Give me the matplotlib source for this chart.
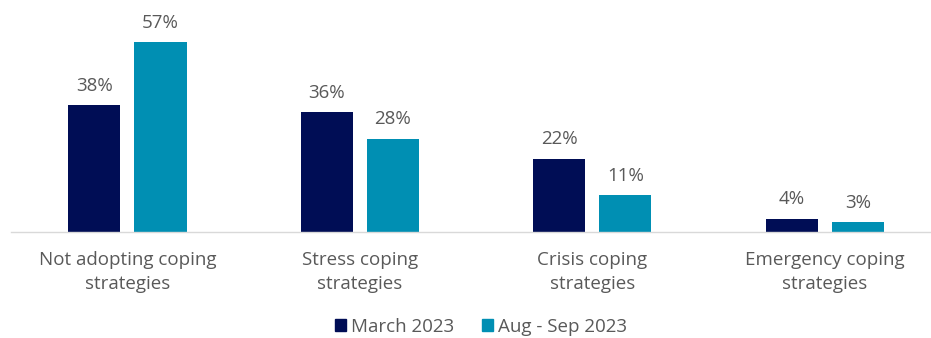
import numpy as np
import matplotlib.pyplot as plt
from matplotlib.patches import Patch

plt.rcParams['font.family'] = ['Open Sans', 'DejaVu Sans']

categories = ['Not adopting coping\nstrategies', 'Stress coping\nstrategies',
              'Crisis coping\nstrategies', 'Emergency coping\nstrategies']
march = [38, 36, 22, 4]
aug_sep = [57, 28, 11, 3]
series_names = ['March 2023', 'Aug - Sep 2023']

navy = '#000d55'
teal = '#008fb3'
grey = '#595959'
fs = 13.5

fig = plt.figure(figsize=(9.31, 3.38), dpi=100)
ax = fig.add_axes([11/931, 1 - 232/338, 919/931, 232/338])

x = np.arange(len(categories))
w = 0.224
off = 0.142
b1 = ax.bar(x - off, march, w, color=navy)
b2 = ax.bar(x + off, aug_sep, w, color=teal)

for bars, vals in ((b1, march), (b2, aug_sep)):
    for b, v in zip(bars, vals):
        ax.annotate(f'{v}%', (b.get_x() + b.get_width()/2, v),
                    xytext=(0, 7.5), textcoords='offset points',
                    ha='center', va='bottom', fontsize=fs, color=grey)

ax.set_xlim(-0.501, 3.452)
ax.set_ylim(0, 69.6)
ax.set_yticks([])
ax.set_xticks(x)
ax.set_xticklabels(categories, fontsize=fs, color=grey, linespacing=1.45)
ax.tick_params(axis='x', length=0, pad=13.5)
for s in ['top', 'left', 'right']:
    ax.spines[s].set_visible(False)
ax.spines['bottom'].set_color('#d9d9d9')
ax.spines['bottom'].set_linewidth(1)

handles = [Patch(color=navy), Patch(color=teal)]
fig.legend(handles, series_names, loc='center', bbox_to_anchor=(481/931, 1 - 327/338),
           ncol=2, frameon=False, fontsize=fs, labelcolor=grey,
           handlelength=0.6, handleheight=0.6, handletextpad=0.25, columnspacing=1.5)

fig.savefig('out.png', dpi=100)
